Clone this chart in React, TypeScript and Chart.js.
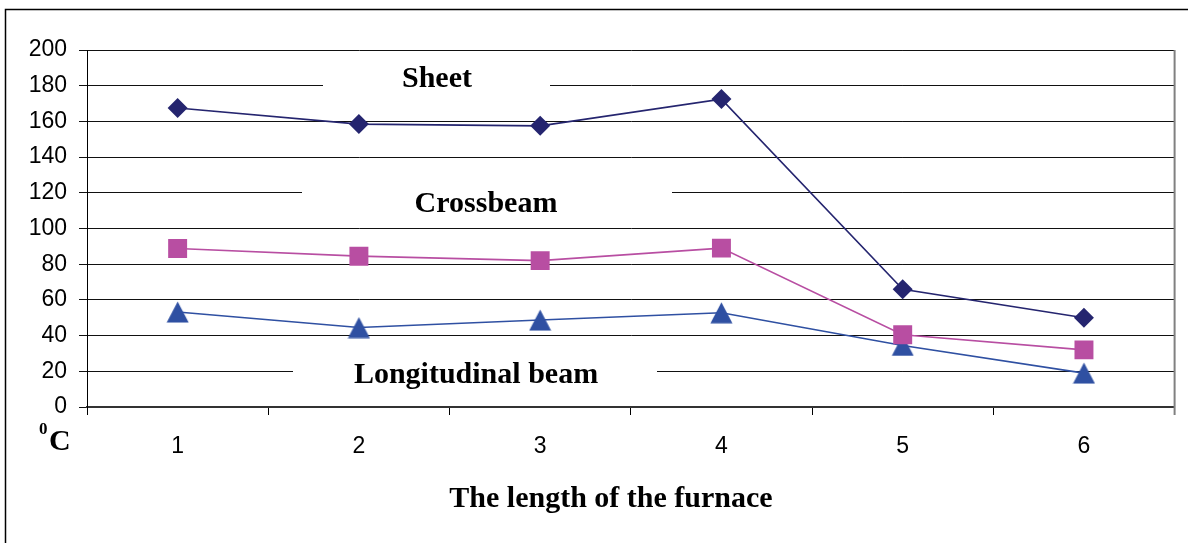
import React, { useEffect, useRef } from "react";
import { Chart, registerables } from "chart.js";

Chart.register(...registerables);

const categories = ["1", "2", "3", "4", "5", "6"];
const sheetValues = [167.5, 158.5, 157.5, 172.5, 66, 50];
const crossbeamValues = [88.8, 84.5, 82, 89, 40.5, 32];
const longitudinalValues = [53.2, 44.5, 48.7, 52.8, 34.5, 19];
const yTicks = [0, 20, 40, 60, 80, 100, 120, 140, 160, 180, 200];

const seriesNames = ["Sheet", "Crossbeam", "Longitudinal beam"];

const W = 1188;
const H = 543;
const SERIF = "'Liberation Serif', 'Times New Roman', serif";
const SANS = "'Liberation Sans', Arial, sans-serif";

function makeTriangle(color: string): HTMLCanvasElement {
  const c = document.createElement("canvas");
  c.width = 23;
  c.height = 22;
  const ctx = c.getContext("2d")!;
  ctx.fillStyle = color;
  ctx.beginPath();
  ctx.moveTo(11.5, 0.5);
  ctx.lineTo(22.5, 21.5);
  ctx.lineTo(0.5, 21.5);
  ctx.closePath();
  ctx.fill();
  return c;
}

const decorPlugin = {
  id: "decor",
  beforeDatasetsDraw(chart: any) {
    const ctx = chart.ctx;
    ctx.save();
    const boxes = [
      { text: seriesNames[0], cx: 437, base: 87, y0: 62, y1: 96, x0: 323, x1: 550 },
      { text: seriesNames[1], cx: 486, base: 212, y0: 180, y1: 218, x0: 302, x1: 672 },
      { text: seriesNames[2], cx: 476, base: 383, y0: 358, y1: 392, x0: 293, x1: 657 },
    ];
    for (const b of boxes) {
      ctx.fillStyle = "#ffffff";
      ctx.fillRect(b.x0, b.y0, b.x1 - b.x0, b.y1 - b.y0);
    }
    ctx.fillStyle = "#000";
    ctx.font = "bold 30px " + SERIF;
    ctx.textAlign = "center";
    ctx.textBaseline = "alphabetic";
    for (const b of boxes) ctx.fillText(b.text, b.cx, b.base);
    ctx.restore();
  },
  afterDraw(chart: any) {
    const ctx = chart.ctx;
    const area = chart.chartArea;
    ctx.save();
    // outer frame
    ctx.strokeStyle = "#000";
    ctx.lineWidth = 1.5;
    ctx.beginPath();
    ctx.moveTo(5.5, H + 2);
    ctx.lineTo(5.5, 9.5);
    ctx.lineTo(W + 2, 9.5);
    ctx.stroke();
    // right plot border
    ctx.strokeStyle = "#808080";
    ctx.lineWidth = 2;
    ctx.beginPath();
    ctx.moveTo(area.right, area.top);
    ctx.lineTo(area.right, area.bottom + 8);
    ctx.stroke();
    // unit label
    ctx.fillStyle = "#000";
    ctx.textAlign = "left";
    ctx.textBaseline = "alphabetic";
    ctx.font = "bold 17px " + SERIF;
    ctx.fillText("0", 39, 434);
    ctx.font = "bold 30px " + SERIF;
    ctx.fillText("C", 49, 450);
    // x axis title
    ctx.textAlign = "center";
    ctx.font = "bold 30px " + SERIF;
    ctx.fillText("The length of the furnace", 611, 507);
    ctx.restore();
  },
};

export default function App() {
  const ref = useRef<HTMLCanvasElement>(null);
  useEffect(() => {
    if (!ref.current) return;
    const navy = "#25256f";
    const pink = "#b84ea2";
    const blue = "#2f50a2";
    const chart = new Chart(ref.current, {
      type: "line",
      data: {
        labels: categories,
        datasets: [
          {
            label: seriesNames[0],
            data: sheetValues,
            borderColor: navy,
            backgroundColor: navy,
            borderWidth: 1.6,
            pointStyle: "rectRot",
            pointRadius: 10,
            pointBorderWidth: 0,
            tension: 0,
          },
          {
            label: seriesNames[1],
            data: crossbeamValues,
            borderColor: pink,
            backgroundColor: pink,
            borderWidth: 1.6,
            pointStyle: "rect",
            pointRadius: 13.4,
            pointBorderWidth: 0,
            tension: 0,
          },
          {
            label: seriesNames[2],
            data: longitudinalValues,
            borderColor: blue,
            backgroundColor: blue,
            borderWidth: 1.6,
            pointStyle: makeTriangle(blue) as any,
            pointRadius: 11,
            pointBorderWidth: 0,
            tension: 0,
          },
        ],
      },
      options: {
        responsive: false,
        animation: false,
        layout: { padding: { left: 0, top: 50, right: 12, bottom: 0 } },
        plugins: { legend: { display: false }, tooltip: { enabled: false } },
        scales: {
          x: {
            offset: true,
            grid: {
              display: true,
              drawOnChartArea: false,
              drawTicks: true,
              tickLength: 8,
              offset: true,
              color: "#000",
            },
            border: { display: true, color: "#333", width: 2 },
            ticks: {
              color: "#000",
              padding: 18,
              font: { family: SANS, size: 23 },
            },
            afterFit(scale: any) {
              scale.height = 136;
            },
          },
          y: {
            min: 0,
            max: 200,
            afterBuildTicks(scale: any) {
              scale.ticks = yTicks.map((v) => ({ value: v }));
            },
            grid: {
              color: "#111",
              lineWidth: 1,
              tickLength: 8,
              drawTicks: true,
            },
            border: { display: true, color: "#000", width: 1 },
            ticks: {
              color: "#000",
              padding: 12,
              font: { family: SANS, size: 23 },
            },
            afterFit(scale: any) {
              scale.width = 87;
            },
          },
        },
      },
      plugins: [decorPlugin],
    });
    return () => chart.destroy();
  }, []);
  return (
    <div style={{ position: "absolute", left: 0, top: 0, width: W, height: H, background: "#fff" }}>
      <canvas ref={ref} width={W} height={H} style={{ width: W, height: H, display: "block" }} />
    </div>
  );
}
